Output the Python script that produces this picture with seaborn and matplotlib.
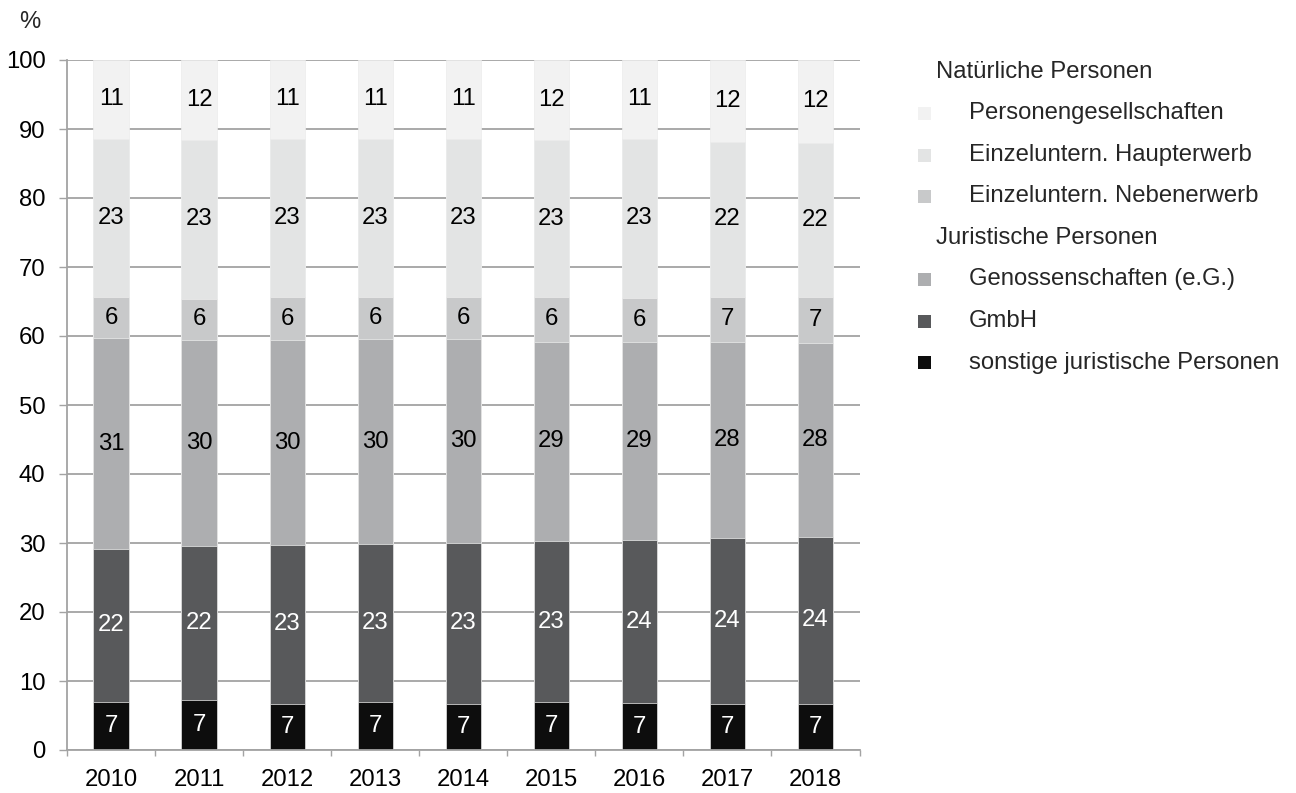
import numpy as np
import pandas as pd
import matplotlib
matplotlib.use("Agg")
import matplotlib.pyplot as plt
from matplotlib.patches import Rectangle
from matplotlib.ticker import FixedLocator
import seaborn as sns

# Shares of legal forms (%), stacked bottom to top
years = ["2010", "2011", "2012", "2013", "2014", "2015", "2016", "2017", "2018"]
sonstige = [7.0, 7.2, 6.7, 6.9, 6.7, 6.9, 6.8, 6.6, 6.7]
gmbh = [22.1, 22.3, 23.0, 23.0, 23.3, 23.4, 23.6, 24.1, 24.2]
genossenschaften = [30.6, 29.9, 29.7, 29.6, 29.6, 28.9, 28.7, 28.4, 28.1]
nebenerwerb = [5.9, 6.0, 6.2, 6.2, 6.0, 6.4, 6.4, 6.6, 6.7]
haupterwerb = [23.0, 23.0, 23.0, 22.9, 23.0, 22.8, 23.1, 22.4, 22.3]
personengesellschaften = [11.4, 11.6, 11.4, 11.4, 11.4, 11.6, 11.4, 11.9, 12.0]

series_names = [
    "sonstige juristische Personen",
    "GmbH",
    "Genossenschaften (e.G.)",
    "Einzeluntern. Nebenerwerb",
    "Einzeluntern. Haupterwerb",
    "Personengesellschaften",
]
series_values = [sonstige, gmbh, genossenschaften, nebenerwerb, haupterwerb,
                 personengesellschaften]
series_colors = ["#0d0d0d", "#58595b", "#adaeb0", "#c8c9ca", "#e3e4e4", "#f2f2f2"]
label_colors = ["white", "white", "black", "black", "black", "black"]

sns.set_theme(style="white")
plt.rcParams["font.family"] = ["Liberation Sans", "DejaVu Sans"]
FS = 17.2

W, H = 1296, 793
fig = plt.figure(figsize=(W / 100, H / 100), dpi=100)
ax = fig.add_axes([67 / W, 1 - 750 / H, (859.5 - 67) / W, (750 - 60) / H])

vals = np.array(series_values)
cum = np.cumsum(vals, axis=0)
df = pd.DataFrame({"year": years})

# Draw cumulative totals from the top segment down so each layer overlays the next
for i in range(len(series_names) - 1, -1, -1):
    df["total"] = cum[i]
    sns.barplot(data=df, x="year", y="total", order=years, color=series_colors[i],
                saturation=1, width=0.4, errorbar=None, ax=ax,
                edgecolor="#ececec", linewidth=0.5, zorder=2)

# Segment labels
for i in range(len(series_names)):
    lower = cum[i] - vals[i]
    for j in range(len(years)):
        ax.text(j, lower[j] + vals[i][j] / 2, f"{vals[i][j]:.0f}",
                ha="center", va="center", fontsize=FS, color=label_colors[i],
                zorder=3)

grid_col = "#a3a3a3"
ax.set_xlim(-0.5, len(years) - 0.5)
ax.set_ylim(0, 100)
ax.set_yticks(np.arange(0, 101, 10))
ax.set_xlabel("")
ax.set_ylabel("")
ax.set_axisbelow(True)
ax.yaxis.grid(True, color=grid_col, linewidth=1.3)
ax.xaxis.grid(False)
for s in ["top", "right"]:
    ax.spines[s].set_visible(False)
for s in ["left", "bottom"]:
    ax.spines[s].set_color(grid_col)
    ax.spines[s].set_linewidth(1.3)

ax.tick_params(axis="y", which="major", length=5.5, width=1.0, color=grid_col,
               pad=10, labelsize=FS, labelcolor="black", left=True)
ax.tick_params(axis="x", which="major", length=0, pad=14, labelsize=FS,
               labelcolor="black")
ax.xaxis.set_minor_locator(FixedLocator(np.arange(-0.5, len(years), 1.0)))
ax.tick_params(axis="x", which="minor", length=4, width=1.0, color=grid_col,
               bottom=True)

fig.text(30 / W, 1 - 22 / H, "%", ha="center", va="center", fontsize=FS)

# Grouped legend on the right
def fy(py):
    return 1 - py / H

rows = [
    ("Natürliche Personen", None),
    ("Personengesellschaften", 5),
    ("Einzeluntern. Haupterwerb", 4),
    ("Einzeluntern. Nebenerwerb", 3),
    ("Juristische Personen", None),
    ("Genossenschaften (e.G.)", 2),
    ("GmbH", 1),
    ("sonstige juristische Personen", 0),
]
for k, (text, idx) in enumerate(rows):
    yc = 72 + 41.5 * k
    if idx is None:
        fig.text(936 / W, fy(yc), text, ha="left", va="center", fontsize=FS)
    else:
        sq = 13
        fig.add_artist(Rectangle((918 / W, fy(yc + sq / 2)), sq / W, sq / H,
                                 transform=fig.transFigure,
                                 facecolor=series_colors[idx], edgecolor="none"))
        fig.text(969 / W, fy(yc), text, ha="left", va="center", fontsize=FS)

fig.savefig("out.png", dpi=100)
